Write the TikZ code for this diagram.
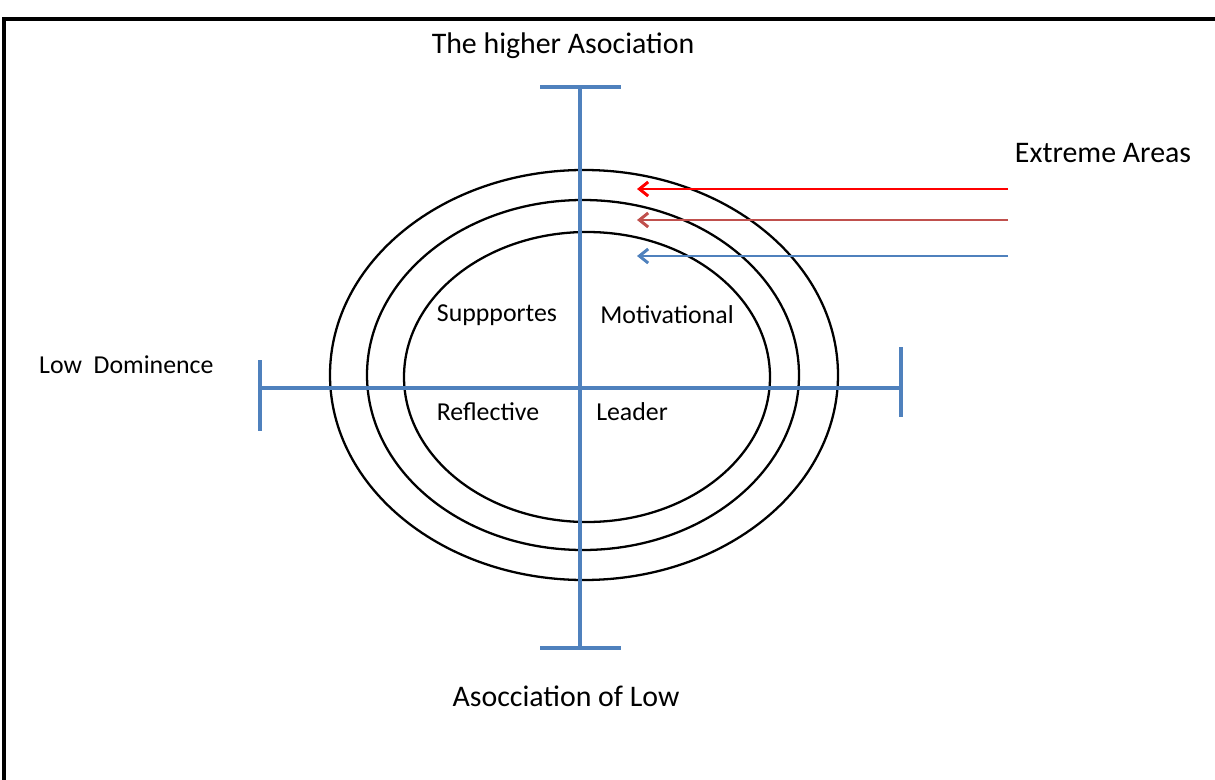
\documentclass[tikz,border=0pt]{standalone}
\usepackage{fontspec}
\setmainfont{Carlito}
\usepackage{xcolor}
\usepackage{tikz}
\usetikzlibrary{positioning,arrows.meta}

\definecolor{axisblue}{HTML}{4F81BD}
\definecolor{ringred}{HTML}{C0504D}
\definecolor{hotred}{HTML}{FF0000}

\begin{document}
\begin{tikzpicture}[x=0.02cm, y=0.02cm, >={Straight Barb[length=5pt,width=8pt]}]
  \tikzset{
    axis/.style={draw=axisblue,line width=2pt},
    ring/.style={draw=black,line width=1.3pt},
    pointer/.style={->,line width=1.7pt},
    title/.style={font=\fontsize{17}{20}\selectfont},
    lbl/.style={font=\fontsize{14.7}{17}\selectfont}
  }
  \useasboundingbox (0,0) rectangle (1215,779);
  \clip (0,0) rectangle (1215,779);
  % Frame (runs off the page)
  \draw[line width=2pt] (1260,760) -- (4,760) -- (4,-20);
  % Rings
  \foreach \cx/\cy/\rx/\ry in {584/404/254/205,583/404/216/175,587/402/183/145}
    \draw[ring] (\cx,\cy) ellipse [x radius=\rx, y radius=\ry];
  % Axes
  \coordinate (top) at (580,692);
  \coordinate (bot) at (580,131);
  \coordinate (lft) at (260,391);
  \coordinate (rgt) at (901,391);
  \draw[axis] (top) -- (bot);
  \draw[axis] (lft) -- (rgt);
  \draw[axis] ([xshift=-0.8cm]top) -- ([xshift=0.82cm]top);
  \draw[axis] ([xshift=-0.8cm]bot) -- ([xshift=0.82cm]bot);
  \draw[axis] ([yshift=-0.86cm]lft) -- ([yshift=0.56cm]lft);
  \draw[axis] ([yshift=-0.58cm]rgt) -- ([yshift=0.82cm]rgt);
  % Axis labels
  \node[title] (high) at (563,733) {The higher Asociation};
  \node[title] (low) at (566,83) {Asocciation of Low};
  \node[lbl,anchor=west] (dom) at (33,414) {Low\ \ Dominence};
  % Quadrants
  \node[lbl] (sup) at (497,464) {Suppportes};
  \node[lbl] (mot) at (667,464) {Motivational};
  \node[lbl] (ref) at (488,367) {Reflective};
  \node[lbl] (lea) at (632,367) {Leader};
  % Extreme areas
  \node[title] (ext) at (1103,626) {Extreme Areas};
  \foreach \n/\y/\c in {1/590/hotred,2/559/ringred,3/523/axisblue}{
    \coordinate (s\n) at (1008,\y);
    \coordinate (e\n) at (637,\y);
    \draw[pointer,draw=\c] (s\n) -- (e\n);
  }
\end{tikzpicture}
\end{document}
